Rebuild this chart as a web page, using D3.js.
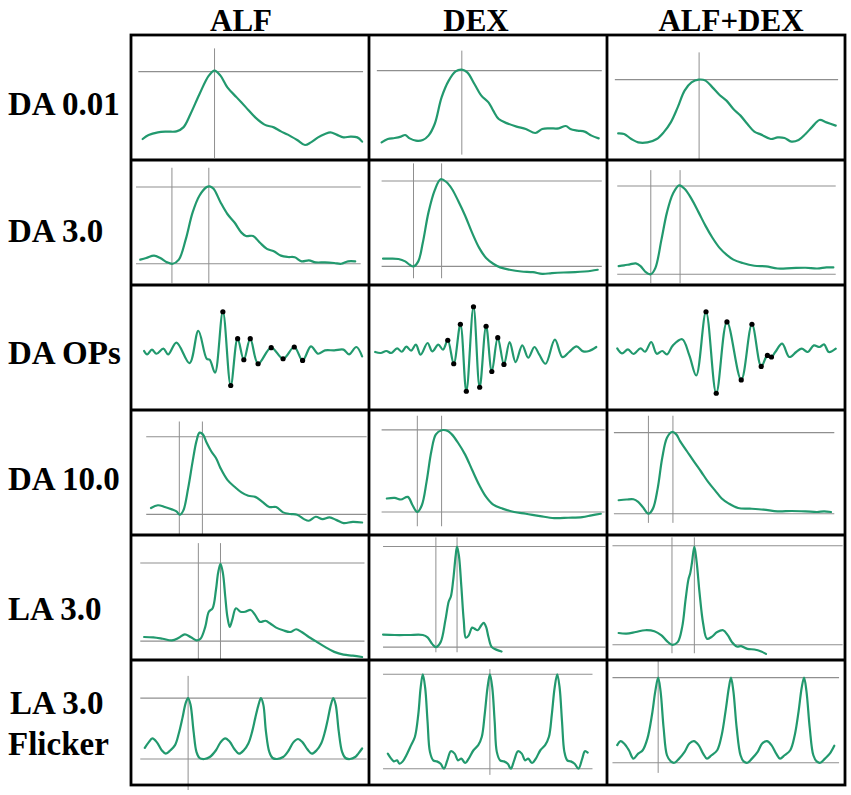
<!DOCTYPE html>
<html><head><meta charset="utf-8">
<script src="https://cdn.jsdelivr.net/npm/d3@7"></script>
<style>html,body{margin:0;padding:0;background:#fff;}svg{display:block;}</style>
</head><body>
<svg id="chart" width="851" height="795"></svg>
<script>
// ---------------- DATA (time 0-100 across each panel, amplitude 0-100 of panel height) ----------------
const columns = ["ALF", "DEX", "ALF+DEX"];
const rowLabels = [["DA 0.01"], ["DA 3.0"], ["DA OPs"], ["DA 10.0"], ["LA 3.0"], ["LA 3.0", "Flicker"]];

// DA 0.01
const da001_ALF = [[4.9,16.8],[7.4,20.0],[11.3,22.1],[15.2,22.7],[19.1,22.9],[22.0,26.1],[25.0,36.8],[28.8,52.8],[32.7,67.5],[35.1,71.5],[37.6,67.5],[40.5,58.1],[44.4,50.1],[48.3,42.1],[52.2,34.1],[56.1,28.3],[60.0,26.1],[63.0,22.9],[65.9,20.3],[69.8,16.0],[73.1,12.0],[75.6,14.1],[78.6,18.1],[81.5,20.8],[83.8,22.1],[86.4,20.3],[89.3,18.1],[92.2,18.7],[95.1,18.1],[97.1,14.7]];
const da001_DEX = [[5.3,14.1],[7.9,16.8],[10.8,17.6],[13.4,18.7],[15.2,20.0],[17.1,17.3],[19.7,15.5],[22.6,16.0],[25.0,19.5],[27.6,28.8],[30.5,50.1],[33.5,63.5],[36.4,70.9],[39.0,72.3],[41.3,70.1],[44.3,60.8],[47.2,51.5],[50.2,46.1],[52.2,39.5],[54.5,32.8],[58.1,29.3],[62.0,26.7],[65.9,24.8],[69.9,21.6],[72.8,24.8],[75.8,25.3],[79.7,25.3],[82.7,27.2],[84.6,24.8],[87.6,23.5],[90.6,22.7],[93.5,19.5],[96.5,17.3]];
const da001_ALFDEX = [[4.7,21.3],[7.2,20.8],[10.2,16.8],[13.1,14.1],[17.0,14.1],[20.9,16.8],[23.8,22.1],[26.8,30.1],[29.7,42.1],[32.6,55.5],[35.5,62.1],[38.5,64.3],[41.4,63.5],[44.3,58.1],[47.3,52.0],[50.2,47.5],[53.1,40.8],[56.1,35.5],[59.0,28.8],[61.9,22.7],[64.8,20.3],[68.8,16.8],[71.7,18.1],[74.6,17.6],[77.5,14.7],[80.5,16.0],[83.4,20.8],[86.3,26.7],[89.3,32.0],[92.2,30.1],[96.1,27.5]];

// DA 3.0
const da3_ALF = [[3.9,20.3],[6.4,21.6],[9.7,23.5],[12.3,21.6],[15.2,18.1],[17.5,17.0],[20.1,20.3],[23.0,36.5],[25.9,58.1],[28.8,71.6],[31.8,78.4],[33.1,78.9],[34.7,77.0],[37.6,66.2],[40.5,56.8],[43.5,50.0],[46.4,41.9],[48.3,39.2],[51.3,39.2],[54.2,33.8],[57.1,28.9],[60.0,27.0],[63.0,23.5],[65.9,22.4],[68.8,22.2],[71.7,18.9],[74.7,19.7],[77.6,18.1],[81.5,18.1],[85.4,17.6],[88.3,17.0],[91.2,18.9],[94.2,18.9]];
const da3_DEX = [[5.9,21.1],[8.9,21.1],[12.4,20.8],[15.2,18.9],[17.1,16.2],[18.7,14.9],[20.7,18.9],[22.6,33.8],[25.0,58.1],[27.6,75.7],[30.1,84.6],[32.5,82.4],[34.8,77.0],[37.4,67.6],[40.4,55.4],[43.3,41.9],[46.3,29.7],[49.2,21.6],[52.2,17.0],[55.1,14.1],[59.1,12.2],[64.0,10.8],[68.9,10.3],[72.8,8.9],[76.8,9.5],[81.7,10.0],[86.6,10.3],[90.6,10.8],[93.5,11.4],[96.1,12.2]];
const da3_ALFDEX = [[4.9,15.1],[7.2,15.7],[9.6,16.5],[12.1,17.3],[14.1,15.1],[16.0,10.8],[18.4,8.6],[20.3,13.5],[22.9,36.5],[25.2,58.1],[27.7,73.0],[30.3,79.7],[32.6,77.0],[35.5,68.9],[38.5,58.1],[41.4,47.3],[44.3,37.8],[47.3,29.7],[50.2,24.3],[53.1,20.3],[57.0,17.6],[61.9,15.4],[66.8,14.9],[71.7,13.2],[77.5,13.5],[83.4,13.8],[88.3,13.2],[92.2,14.1],[95.1,14.1]];

// DA OPs
const ops_ALF = [[5.5,47.2],[6.8,44.5],[8.8,48.3],[10.7,45.0],[13.6,49.1],[15.6,44.5],[19.1,53.9],[24.6,37.5],[28.3,63.3],[31.8,41.0],[33.1,40.2],[35.3,29.8],[38.6,78.6],[41.9,19.6],[44.8,57.1],[47.4,40.2],[50.1,57.1],[53.4,37.0],[58.9,49.9],[63.9,41.0],[68.6,50.4],[72.1,39.7],[75.6,50.9],[78.6,45.0],[81.5,47.7],[85.4,47.7],[89.3,48.3],[91.6,44.5],[94.7,50.4],[97.1,42.9]];
const ops_DEX = [[2.6,46.4],[4.9,45.6],[7.3,47.2],[9.3,45.6],[11.8,49.3],[13.8,46.6],[15.7,50.7],[17.7,47.5],[19.7,52.3],[21.7,44.2],[24.6,53.6],[26.6,46.9],[29.1,52.3],[31.1,48.3],[33.1,55.8],[35.6,37.0],[38.4,68.6],[40.9,15.0],[43.9,82.6],[46.5,18.2],[49.2,67.0],[51.6,30.8],[54.1,57.9],[56.7,36.5],[59.1,54.4],[61.6,38.3],[64.4,51.7],[66.9,41.8],[69.5,50.4],[71.5,44.5],[74.2,37.0],[78.1,56.3],[81.3,42.3],[84.1,46.4],[87.2,50.9],[90.0,46.9],[92.5,47.2],[95.5,50.4]];
const ops_ALFDEX = [[4.3,49.3],[6.3,45.3],[8.8,48.5],[11.1,44.8],[14.1,49.3],[16.0,46.6],[18.6,54.4],[20.9,45.0],[23.2,47.2],[25.2,44.5],[27.7,51.7],[31.6,56.6],[34.6,43.7],[37.5,27.6],[41.6,78.6],[45.9,13.4],[50.4,70.5],[56.4,24.1],[60.9,68.6],[64.8,34.9],[67.4,43.7],[69.1,42.4],[70.7,46.4],[73.6,53.1],[76.6,42.4],[79.5,46.4],[81.8,49.1],[84.4,46.4],[86.9,51.7],[89.3,50.4],[91.2,52.5],[93.2,46.4],[96.1,49.1]];
const opsPeaks_ALF = [[38.6,78.6],[41.9,19.6],[44.8,57.1],[47.4,40.2],[50.1,57.1],[53.4,37.0],[58.9,49.9],[63.9,41.0],[68.6,50.4],[72.1,39.7]];
const opsPeaks_DEX = [[33.1,55.8],[35.6,37.0],[38.4,68.6],[40.9,15.0],[43.9,82.6],[46.5,18.2],[49.2,67.0],[51.6,30.8],[54.1,57.9],[56.7,36.5]];
const opsPeaks_ALFDEX = [[41.6,78.6],[45.9,13.4],[50.4,70.5],[56.4,24.1],[60.9,68.6],[64.8,34.9],[67.4,43.7],[69.1,42.4]];

// DA 10.0
const da10_ALF = [[8.4,21.6],[11.3,23.8],[14.2,22.4],[17.2,20.5],[19.1,18.9],[20.5,16.2],[22.0,19.7],[24.0,37.3],[25.9,58.9],[27.5,75.1],[28.8,81.9],[30.2,80.5],[31.8,73.8],[33.7,67.0],[35.7,61.6],[37.6,53.5],[40.5,44.1],[43.5,38.6],[46.4,34.1],[49.3,31.4],[52.2,30.5],[55.2,26.5],[58.1,22.4],[61.0,22.4],[63.9,18.1],[66.9,16.8],[69.8,16.2],[72.7,12.7],[74.7,11.4],[77.6,14.6],[80.5,12.7],[83.4,14.1],[86.4,11.9],[89.3,9.5],[93.2,10.5],[97.1,10.0]];
const da10_DEX = [[7.5,29.2],[10.8,29.7],[13.4,28.4],[16.3,30.5],[18.3,23.8],[20.3,18.4],[22.2,23.8],[24.2,42.7],[26.2,67.0],[28.1,80.5],[30.5,83.8],[33.1,83.2],[34.8,80.5],[37.4,73.8],[40.4,64.3],[43.3,52.2],[46.3,40.0],[49.2,30.5],[52.2,24.3],[56.1,21.1],[61.0,18.4],[65.9,17.0],[71.9,15.1],[77.8,13.5],[83.7,13.8],[89.6,14.3],[93.5,15.7],[97.4,17.0]];
const da10_ALFDEX = [[4.9,27.8],[8.2,28.4],[11.1,28.6],[13.1,26.5],[15.0,22.4],[17.4,17.0],[19.3,21.1],[21.3,37.3],[23.2,61.6],[25.2,77.8],[27.3,82.4],[29.1,80.5],[30.7,75.1],[33.6,67.0],[36.5,58.9],[39.5,50.8],[42.4,42.7],[45.3,35.9],[48.2,29.2],[51.2,25.1],[55.1,21.6],[60.0,21.1],[65.8,20.3],[71.7,18.9],[77.5,19.2],[83.4,18.9],[88.3,18.4],[91.2,18.9],[94.1,18.4]];

// LA 3.0
const la3_ALF = [[5.5,18.4],[9.4,18.1],[13.3,17.0],[17.2,15.7],[20.1,17.8],[22.6,20.5],[25.0,18.4],[27.5,15.7],[29.2,17.0],[31.2,26.5],[32.7,38.6],[34.3,41.4],[35.7,56.2],[36.6,69.7],[37.6,77.0],[38.6,69.7],[39.6,50.8],[40.5,34.6],[41.5,26.5],[42.5,31.9],[44.1,41.4],[46.0,38.6],[48.0,38.6],[50.3,40.0],[52.2,35.9],[54.2,30.5],[56.5,31.4],[58.5,29.2],[61.0,25.9],[63.9,23.8],[66.9,22.4],[69.4,24.6],[71.7,22.4],[74.7,18.4],[77.6,15.1],[81.5,10.5],[85.4,6.5],[89.3,4.3],[93.2,3.5],[97.1,2.4]];
const la3_DEX = [[5.9,20.3],[10.8,20.0],[16.7,20.0],[22.6,20.0],[24.6,18.1],[26.6,12.7],[28.1,10.3],[30.1,14.3],[32.1,31.9],[33.5,46.8],[34.4,50.8],[35.4,64.3],[36.4,83.2],[37.0,90.8],[37.8,83.2],[38.8,58.9],[39.8,31.9],[40.7,17.8],[41.9,19.7],[43.3,25.9],[44.3,25.1],[45.7,23.8],[47.2,27.8],[48.2,29.7],[49.2,26.5],[50.2,18.4],[51.6,10.3],[53.7,8.1],[55.7,6.8]];
const la3_ALFDEX = [[4.9,21.6],[8.2,21.1],[12.1,22.4],[16.0,23.8],[19.9,23.0],[22.9,19.7],[25.2,15.1],[27.3,12.2],[29.7,14.3],[31.6,26.5],[33.0,48.1],[34.2,64.3],[35.0,69.7],[35.7,77.8],[36.7,90.8],[37.7,77.8],[38.9,53.5],[40.4,29.2],[42.0,17.0],[43.9,18.4],[46.3,22.4],[48.8,23.8],[50.8,19.7],[52.5,14.3],[54.5,10.8],[56.4,11.1],[59.0,8.9],[61.9,8.4],[64.8,6.8],[66.8,4.9]];

// LA 3.0 Flicker
const flk_ALF = [[5.8,29.7],[7.4,34.1],[9.0,37.3],[10.9,34.1],[12.9,27.8],[14.6,25.1],[16.6,27.8],[18.5,31.9],[20.1,41.4],[21.6,53.5],[23.0,65.7],[24.0,69.5],[25.0,64.3],[26.3,42.7],[27.5,26.5],[28.8,21.6],[30.8,20.8],[33.1,22.4],[35.7,27.8],[37.6,34.1],[39.6,37.3],[41.5,34.6],[43.5,28.6],[45.4,25.1],[47.4,27.8],[49.3,33.2],[50.9,42.7],[52.2,53.5],[53.6,64.3],[54.6,69.5],[55.6,64.3],[56.7,42.7],[58.1,26.5],[59.5,21.6],[61.4,20.8],[63.9,22.4],[66.3,27.8],[68.2,34.1],[70.2,36.8],[72.1,34.1],[74.1,28.6],[76.0,25.1],[78.0,27.8],[79.9,33.2],[81.5,42.7],[82.8,53.5],[84.0,64.3],[85.0,69.5],[86.0,64.3],[87.3,42.7],[88.7,26.5],[90.1,21.6],[92.0,20.8],[94.2,22.4],[95.5,25.1],[97.1,29.2]];
const flk_DEX = [[7.9,25.1],[9.3,21.1],[10.4,18.9],[11.8,19.7],[12.8,17.0],[14.2,18.9],[15.7,23.8],[17.7,31.9],[19.3,38.6],[20.7,56.2],[21.7,77.8],[22.6,88.6],[23.6,77.8],[24.6,50.8],[25.6,26.5],[27.0,19.7],[28.5,18.9],[30.1,17.0],[31.5,13.0],[32.9,19.7],[34.4,27.0],[36.0,25.1],[37.4,19.7],[38.8,21.1],[40.4,17.6],[41.9,21.1],[43.9,27.8],[45.9,31.9],[47.4,38.6],[48.6,56.2],[49.8,77.8],[50.8,88.6],[51.8,77.8],[52.8,50.8],[53.7,26.5],[55.1,19.7],[56.7,18.9],[58.3,17.0],[59.6,13.0],[61.0,19.7],[62.6,27.0],[64.2,25.1],[65.6,19.7],[66.9,21.1],[68.5,17.6],[70.1,21.1],[72.0,27.8],[74.0,31.9],[75.6,38.6],[76.8,56.2],[78.0,77.8],[79.1,88.6],[80.1,77.8],[81.1,50.8],[82.1,26.5],[83.3,19.7],[84.8,18.9],[86.4,17.0],[88.0,13.0],[89.6,21.1],[90.7,27.0],[91.9,25.9]];
const flk_ALFDEX = [[4.3,31.9],[5.7,35.1],[7.2,33.2],[9.2,27.8],[11.1,21.1],[13.1,25.1],[15.0,27.8],[17.0,37.3],[18.9,56.2],[20.3,75.1],[21.5,85.9],[22.5,75.1],[23.8,45.4],[25.2,23.8],[26.8,18.9],[28.3,17.8],[30.3,21.1],[32.6,26.5],[34.6,33.2],[36.5,35.1],[38.5,31.9],[40.4,25.1],[42.0,21.1],[43.9,23.8],[46.3,27.8],[48.2,40.0],[49.8,58.9],[51.2,77.8],[52.1,85.9],[53.1,75.1],[54.5,45.4],[56.1,23.8],[57.4,18.9],[59.0,17.8],[60.9,21.1],[63.3,26.5],[65.2,33.2],[67.2,35.1],[69.1,31.9],[71.1,25.1],[72.7,21.1],[74.6,23.8],[77.0,27.8],[78.9,40.0],[80.5,58.9],[81.8,77.8],[82.8,85.9],[83.8,75.1],[85.2,45.4],[86.7,23.8],[88.1,18.9],[89.6,17.8],[91.6,21.1],[93.6,25.1],[95.5,31.4]];

// Reference (measurement) lines: horizontal = [amplitude, tStart, tEnd]; vertical = [time, aMin, aMax]
const hRef = [
  [[[70.7,3.1,97.5]], [[71.5,3.3,97.8]], [[64.3,3.3,97.1]]],
  [[[78.4,2.1,96.5],[17.0,2.1,96.5]], [[83.2,5.3,97.8],[14.9,5.3,97.8]], [[79.2,4.3,96.1],[8.6,4.3,96.1]]],
  [[], [], []],
  [[[78.6,6.4,99.0],[16.5,6.4,99.0]], [[84.1,5.3,99.0],[18.4,5.3,99.0]], [[81.9,2.9,95.5],[17.0,2.9,95.5]]],
  [[[77.6,3.9,98.1],[15.1,3.9,98.1]], [[90.8,5.9,99.4],[10.3,5.9,99.4]], [[91.4,2.3,99.0],[12.2,2.3,99.0]]],
  [[[69.5,3.9,99.0],[20.8,3.9,99.0]], [[88.6,5.9,93.9],[13.0,5.9,93.9]], [[85.9,2.3,97.5],[17.8,2.3,97.5]]]
];
const vRef = [
  [[[35.1,1.6,89.3]], [[39.0,4.3,87.5]], [[38.7,0.8,86.1]]],
  [[[17.2,1.4,93.8],[32.7,1.4,93.8]], [[18.7,5.4,97.3],[30.5,5.4,97.3]], [[18.4,1.4,91.9],[30.7,1.4,91.9]]],
  [[], [], []],
  [[[20.3,0,90.8],[30.0,0,90.8]], [[20.3,7.0,95.4],[30.5,7.0,95.4]], [[17.4,9.7,95.4],[27.7,9.7,95.4]]],
  [[[28.3,0,93.5],[37.6,0,93.5]], [[28.1,6.2,98.1],[37.0,6.2,98.1]], [[27.3,5.4,98.1],[36.7,5.4,98.1]]],
  [[[24.0,-4,87.3]], [[50.8,8.1,92.7]], [[21.5,9.7,99.5]]]
];

const traces = [
  [da001_ALF, da001_DEX, da001_ALFDEX],
  [da3_ALF, da3_DEX, da3_ALFDEX],
  [ops_ALF, ops_DEX, ops_ALFDEX],
  [da10_ALF, da10_DEX, da10_ALFDEX],
  [la3_ALF, la3_DEX, la3_ALFDEX],
  [flk_ALF, flk_DEX, flk_ALFDEX]
];
const peakDots = [[], [], [opsPeaks_ALF, opsPeaks_DEX, opsPeaks_ALFDEX], [], [], []];

// ---------------- LAYOUT ----------------
const svg = d3.select("#chart");
const colBand = d3.scaleBand().domain(d3.range(3)).range([131, 845]);
const rowBand = d3.scaleBand().domain(d3.range(6)).range([35, 785]);
const GREEN = "#22996e";
const GRAY = "#8f8f8f";
const serif = "'Liberation Serif','Times New Roman',serif";

// headers
const headerX = [241, 476, 731];
svg.selectAll("text.hdr").data(columns).join("text")
  .attr("class", "hdr")
  .attr("x", (d, i) => headerX[i]).attr("y", 31)
  .attr("text-anchor", "middle")
  .attr("font-family", serif).attr("font-weight", "bold").attr("font-size", 31)
  .text(d => d);

// row labels
const labelBase = [115, 242, 364, 490, 620, 714];
rowLabels.forEach((lines, r) => {
  lines.forEach((t, k) => {
    svg.append("text")
      .attr("x", k === 0 && lines.length > 1 ? 10 : 8)
      .attr("y", labelBase[r] + k * 41)
      .attr("font-family", serif).attr("font-weight", "bold").attr("font-size", 33)
      .text(t);
  });
});

// cells
const line = d3.line().curve(d3.curveCatmullRom.alpha(0.5));
for (let r = 0; r < 6; r++) {
  for (let c = 0; c < 3; c++) {
    const x0 = colBand(c), y0 = rowBand(r);
    const x = d3.scaleLinear().domain([0, 100]).range([x0, x0 + colBand.bandwidth()]);
    const y = d3.scaleLinear().domain([0, 100]).range([y0 + rowBand.bandwidth(), y0]);
    const g = svg.append("g");
    g.selectAll("line.h").data(hRef[r][c]).join("line")
      .attr("x1", d => x(d[1])).attr("x2", d => x(d[2]))
      .attr("y1", d => y(d[0])).attr("y2", d => y(d[0]))
      .attr("stroke", GRAY).attr("stroke-width", 1.2);
    g.selectAll("line.v").data(vRef[r][c]).join("line")
      .attr("x1", d => x(d[0])).attr("x2", d => x(d[0]))
      .attr("y1", d => y(d[1])).attr("y2", d => y(d[2]))
      .attr("stroke", GRAY).attr("stroke-width", 1);
    line.x(d => x(d[0])).y(d => y(d[1]));
    g.append("path").attr("d", line(traces[r][c]))
      .attr("fill", "none").attr("stroke", GREEN).attr("stroke-width", 2.2)
      .attr("stroke-linejoin", "round").attr("stroke-linecap", "round");
    if (peakDots[r].length) {
      g.selectAll("circle").data(peakDots[r][c]).join("circle")
        .attr("cx", d => x(d[0])).attr("cy", d => y(d[1])).attr("r", 2.6)
        .attr("fill", "#000");
    }
  }
}

// grid borders
const gridG = svg.append("g").attr("stroke", "#000").attr("stroke-width", 2.8).attr("fill", "none");
gridG.append("rect").attr("x", 131).attr("y", 35).attr("width", 714).attr("height", 750);
[1, 2].forEach(c => gridG.append("line").attr("x1", colBand(c)).attr("x2", colBand(c)).attr("y1", 35).attr("y2", 785));
[1, 2, 3, 4, 5].forEach(r => gridG.append("line").attr("x1", 131).attr("x2", 845).attr("y1", rowBand(r)).attr("y2", rowBand(r)));
</script>
</body></html>
